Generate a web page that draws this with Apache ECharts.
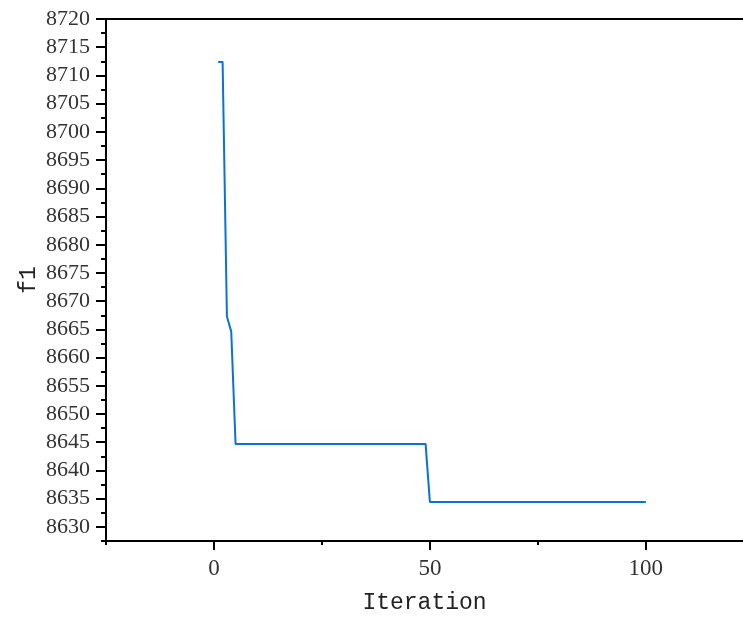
<!DOCTYPE html>
<html>
<head>
<meta charset="utf-8">
<script src="https://cdn.jsdelivr.net/npm/echarts@6/dist/echarts.min.js"></script>
<style>html,body{margin:0;padding:0;background:#fff;}#c{width:743px;height:619px;}</style>
</head>
<body>
<div id="c"></div>
<script>
const iterations = [
  1,2,3,4,5,6,7,8,9,10,
  11,12,13,14,15,16,17,18,19,20,
  21,22,23,24,25,26,27,28,29,30,
  31,32,33,34,35,36,37,38,39,40,
  41,42,43,44,45,46,47,48,49,50,
  51,52,53,54,55,56,57,58,59,60,
  61,62,63,64,65,66,67,68,69,70,
  71,72,73,74,75,76,77,78,79,80,
  81,82,83,84,85,86,87,88,89,90,
  91,92,93,94,95,96,97,98,99,100
];
const f1Values = [
  8712.4,8712.4,8667.3,8664.6,8644.7,8644.7,8644.7,8644.7,8644.7,8644.7,
  8644.7,8644.7,8644.7,8644.7,8644.7,8644.7,8644.7,8644.7,8644.7,8644.7,
  8644.7,8644.7,8644.7,8644.7,8644.7,8644.7,8644.7,8644.7,8644.7,8644.7,
  8644.7,8644.7,8644.7,8644.7,8644.7,8644.7,8644.7,8644.7,8644.7,8644.7,
  8644.7,8644.7,8644.7,8644.7,8644.7,8644.7,8644.7,8644.7,8644.7,8634.4,
  8634.4,8634.4,8634.4,8634.4,8634.4,8634.4,8634.4,8634.4,8634.4,8634.4,
  8634.4,8634.4,8634.4,8634.4,8634.4,8634.4,8634.4,8634.4,8634.4,8634.4,
  8634.4,8634.4,8634.4,8634.4,8634.4,8634.4,8634.4,8634.4,8634.4,8634.4,
  8634.4,8634.4,8634.4,8634.4,8634.4,8634.4,8634.4,8634.4,8634.4,8634.4,
  8634.4,8634.4,8634.4,8634.4,8634.4,8634.4,8634.4,8634.4,8634.4,8634.4
];
const xMajorTicks = [0, 50, 100];
const xMinorTicks = [-25, 25, 75];
const yMajorTicks = [8630,8635,8640,8645,8650,8655,8660,8665,8670,8675,8680,8685,8690,8695,8700,8705,8710,8715,8720];
const yMinorTicks = [8627.5,8632.5,8637.5,8642.5,8647.5,8652.5,8657.5,8662.5,8667.5,8672.5,8677.5,8682.5,8687.5,8692.5,8697.5,8702.5,8707.5,8712.5,8717.5];
const xTitle = 'Iteration';
const yTitle = 'f1';

const X_MIN = -25, X_MAX = 122.5, Y_MIN = 8627.5, Y_MAX = 8720;
const axisLine = {show: true, onZero: false, lineStyle: {color: '#000', width: 2}};
const serif = 'Liberation Serif';
const plain = v => String(v);

const chart = echarts.init(document.getElementById('c'), null, {renderer: 'canvas'});
chart.setOption({
  animation: false,
  backgroundColor: '#fff',
  grid: {left: 106, top: 19, right: 0, bottom: 78, containLabel: false},
  xAxis: [
    {
      type: 'value', min: X_MIN, max: X_MAX, position: 'bottom',
      name: xTitle, nameLocation: 'middle', nameGap: 50, nameMoveOverlap: false,
      nameTextStyle: {fontFamily: 'Liberation Mono', fontSize: 23, color: '#222'},
      axisLine: axisLine,
      axisTick: {show: true, inside: false, length: 9, customValues: xMajorTicks, lineStyle: {color: '#000', width: 2}},
      axisLabel: {show: true, customValues: xMajorTicks, formatter: plain, margin: 16, fontFamily: serif, fontSize: 23, color: '#333'},
      splitLine: {show: false}
    },
    {
      type: 'value', min: X_MIN, max: X_MAX, position: 'bottom',
      axisLine: {show: false, onZero: false},
      axisTick: {show: true, length: 4, customValues: xMinorTicks, lineStyle: {color: '#000', width: 2}},
      axisLabel: {show: false},
      splitLine: {show: false}
    },
    {
      type: 'value', min: X_MIN, max: X_MAX, position: 'top',
      axisLine: axisLine,
      axisTick: {show: false},
      axisLabel: {show: false},
      splitLine: {show: false}
    }
  ],
  yAxis: [
    {
      type: 'value', min: Y_MIN, max: Y_MAX, position: 'left',
      name: yTitle, nameLocation: 'middle', nameGap: 66, nameMoveOverlap: false,
      nameTextStyle: {fontFamily: 'Liberation Mono', fontSize: 23, color: '#222'},
      axisLine: axisLine,
      axisTick: {show: true, length: 10, customValues: yMajorTicks, lineStyle: {color: '#000', width: 2}},
      axisLabel: {show: true, customValues: yMajorTicks, formatter: plain, margin: 16, fontFamily: serif, fontSize: 22, color: '#333'},
      splitLine: {show: false}
    },
    {
      type: 'value', min: Y_MIN, max: Y_MAX, position: 'left',
      axisLine: {show: false, onZero: false},
      axisTick: {show: true, length: 5, customValues: yMinorTicks, lineStyle: {color: '#000', width: 2}},
      axisLabel: {show: false},
      splitLine: {show: false}
    }
  ],
  series: [{
    type: 'line',
    xAxisIndex: 0, yAxisIndex: 0,
    data: iterations.map((it, i) => [it, f1Values[i]]),
    showSymbol: false,
    lineStyle: {color: '#0a72d6', width: 2},
    itemStyle: {color: '#0a72d6'}
  }]
});
</script>
</body>
</html>
